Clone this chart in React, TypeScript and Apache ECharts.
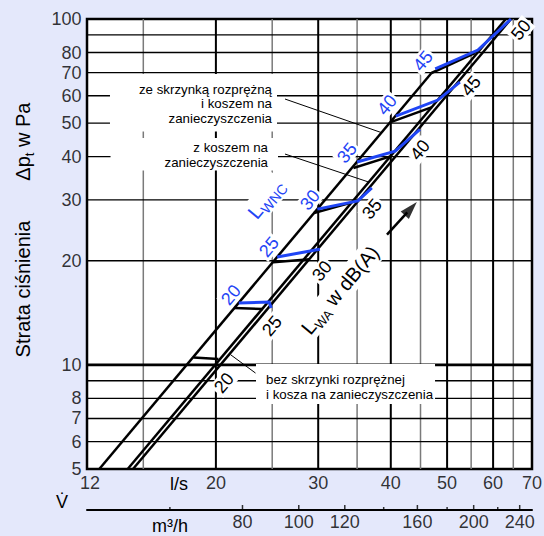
import React, { useEffect, useRef } from 'react';
import * as echarts from 'echarts';

const FONT = '"Liberation Sans", Arial, Helvetica, sans-serif';
const PAGE_BG = '#e4e8fb';
const BLUE = '#1f45f5';

// Axis ranges
const flowRange = [12, 70]; // l/s
const pressureRange = [5, 100]; // Pa
const volumeRange = [43.2, 252]; // m³/h (l/s × 3.6)

// Grid lines
const flowGridMajor = [20, 30, 40, 50, 60];
const flowGridMinor = [15, 25, 35, 45, 55, 65];
const pressureGrid = [6, 7, 8, 9, 20, 30, 40, 50, 60, 70, 80, 90];
const pressureGridBold = [10];

// Tick labels
const flowTicks = [12, 20, 30, 40, 50, 60, 70];
const pressureTicks = [5, 6, 7, 8, 10, 20, 30, 40, 50, 60, 70, 80, 100];
const volumeTicks = [80, 100, 120, 160, 200, 240];
const volumeMinorTicks = [60, 140, 180, 220];

// Pressure loss curves [l/s, Pa]
const withPlenumAndFilter = [[12.6, 5], [47.0, 69.8]];
const withFilter = [[14.1, 5], [63.1, 100]];
const bare = [[14.4, 5], [64.4, 100]];

// Sound power level LWA in dB(A): iso-lines between the curves
const lwaLevels = [20, 25, 30, 35, 40, 45, 50];
const lwaSteps = [
  [[18.3, 10.5], [20.2, 10.4]],
  [[21.5, 14.6], [24.1, 14.5]],
  [[25.1, 19.8], [29.0, 20.2]],
  [[29.5, 27.5], [34.1, 29.4]],
  [[34.5, 37.1], [40.2, 40.2]],
  [[40.1, 50.4], [47.1, 55.6]],
  [[47.0, 69.8], [55.8, 79.7]],
];

// LWNC levels
const lwncLevels = [20, 25, 30, 35, 40, 45];
const lwncSteps = [
  [[21.9, 15.1], [24.7, 15.2], [24.9, 14.6]],
  [[25.5, 20.5], [30.2, 21.6]],
  [[29.9, 28.2], [35.1, 29.8], [37.1, 32.5]],
  [[35.0, 38.6], [40.7, 41.5], [44.9, 48.0]],
  [[40.8, 52.4], [48.2, 58.3], [52.6, 65.7]],
  [[47.7, 71.7], [56.5, 81.3], [64.4, 100]],
];

// Leader lines from the captions to their curves, and the LWA arrow
const leaderPlenumAndFilter = [[26.3, 58.7], [38.6, 46.9]];
const leaderFilter = [[26.3, 40.7], [36.6, 33.8]];
const leaderBare = [[23.4, 9.47], [21.2, 10.7]];
const lwaArrowShaft = [[39.4, 23.8], [42.7, 27.6]];
const lwaArrowHead = [43.3, 28.3];

// Label placement (pixels)
const lwaLabelAt = [[224, 383], [272, 326], [322, 271], [372, 209], [420, 150], [471, 86], [521, 30]];
const lwncLabelAt = [[231, 295], [269, 247], [310, 200], [347, 153], [387, 105], [423, 61]];
const ROT = (50 * Math.PI) / 180;

const seg = (data: number[][], color: string, width: number, z: number) => ({
  type: 'line',
  data,
  symbol: 'none',
  silent: true,
  z,
  clip: true,
  lineStyle: { color, width, cap: 'butt', join: 'miter' },
});

const labelSeries = (data: any[], label: any, axes = 0) => ({
  type: 'scatter',
  xAxisIndex: axes,
  yAxisIndex: axes,
  data,
  symbol: 'circle',
  symbolSize: 1,
  itemStyle: { color: 'rgba(0,0,0,0)' },
  silent: true,
  clip: false,
  z: 4,
  label: { show: true, color: '#000', fontFamily: FONT, fontSize: 18, ...label },
});

const numberText = (txt: string, at: number[], color: string) => ({
  type: 'text',
  x: at[0],
  y: at[1],
  rotation: ROT,
  z: 3,
  silent: true,
  style: {
    text: txt,
    fill: color,
    fontSize: 18,
    fontFamily: FONT,
    align: 'center',
    verticalAlign: 'middle',
    textAlign: 'center',
    textVerticalAlign: 'middle',
    backgroundColor: '#fff',
    padding: [0, 2, 0, 2],
  },
});

const captionText = (text: string, x: number, y: number, align: string, lineHeight: number, padding: number[]) => ({
  type: 'text',
  x,
  y,
  z: 3,
  silent: true,
  style: {
    text,
    fill: '#000',
    fontSize: 13.3,
    fontFamily: FONT,
    align,
    textAlign: align,
    verticalAlign: 'top',
    textVerticalAlign: 'top',
    lineHeight,
    backgroundColor: '#fff',
    padding,
  },
});

const plainText = (text: string, x: number, y: number, fontSize = 18) => ({
  type: 'text',
  x,
  y,
  z: 3,
  silent: true,
  style: {
    text,
    fill: '#000',
    fontSize,
    fontFamily: FONT,
    align: 'center',
    verticalAlign: 'middle',
    textAlign: 'center',
    textVerticalAlign: 'middle',
  },
});

function buildOption() {
  const series: any[] = [];

  flowGridMinor.forEach((q) => series.push(seg([[q, pressureRange[0]], [q, pressureRange[1]]], '#7a7a7a', 1.5, 1)));
  flowGridMajor.forEach((q) => series.push(seg([[q, pressureRange[0]], [q, pressureRange[1]]], '#000', 2, 1)));
  pressureGrid.forEach((p) => series.push(seg([[flowRange[0], p], [flowRange[1], p]], '#000', 1.4, 1)));
  pressureGridBold.forEach((p) => series.push(seg([[flowRange[0], p], [flowRange[1], p]], '#000', 2.6, 1)));

  [withPlenumAndFilter, withFilter, bare].forEach((c) => series.push(seg(c, '#000', 2.5, 5)));
  lwaSteps.forEach((s) => series.push(seg(s, '#000', 2.5, 5)));
  lwncSteps.forEach((s) => series.push(seg(s, BLUE, 3, 6)));
  [leaderPlenumAndFilter, leaderFilter, leaderBare].forEach((l) => series.push(seg(l, '#000', 1, 5)));
  series.push(seg(lwaArrowShaft, '#000', 2.5, 5));
  series.push({
    type: 'scatter',
    data: [lwaArrowHead],
    symbol: 'path://M5,0L10,18L0,18Z',
    symbolSize: [11, 18],
    symbolRotate: -42,
    itemStyle: { color: '#000' },
    silent: true,
    clip: false,
    z: 5,
  });

  // Tick labels
  series.push(
    labelSeries(
      pressureTicks.map((p) => [flowRange[0], p]),
      { position: 'left', distance: 5, formatter: (p: any) => String(p.value[1]) }
    )
  );
  series.push(
    labelSeries(
      flowTicks.map((q) =>
        q === flowRange[0] ? { value: [q, pressureRange[0]], label: { offset: [3, 0] } } : [q, pressureRange[0]]
      ),
      { position: 'bottom', distance: 4, formatter: (p: any) => String(p.value[0]) }
    )
  );
  series.push(
    labelSeries(
      volumeTicks.map((v) => [v, 0]),
      { position: 'bottom', distance: 2, formatter: (p: any) => String(p.value[0]) },
      1
    )
  );
  series.push({
    type: 'scatter',
    xAxisIndex: 1,
    yAxisIndex: 1,
    data: volumeTicks.map((v) => [v, 0]),
    symbol: 'rect',
    symbolSize: [1.5, 5],
    symbolOffset: [0, -2.5],
    itemStyle: { color: '#000' },
    silent: true,
    clip: false,
    z: 4,
  });
  series.push({
    type: 'scatter',
    xAxisIndex: 1,
    yAxisIndex: 1,
    data: volumeMinorTicks.map((v) => [v, 0]),
    symbol: 'rect',
    symbolSize: [1.5, 3],
    symbolOffset: [0, -1.5],
    itemStyle: { color: '#000' },
    silent: true,
    clip: false,
    z: 4,
  });

  const graphic: any[] = [
    ...lwaLevels.map((v, i) => numberText(String(v), lwaLabelAt[i], '#000')),
    ...lwncLevels.map((v, i) => numberText(String(v), lwncLabelAt[i], BLUE)),
    captionText('ze skrzynką rozprężną\ni koszem na\nzanieczyszczenia', 277, 74, 'right', 14.5, [8, 5, 6, 29]),
    captionText('z koszem na\nzanieczyszczenia', 278, 138, 'right', 15, [1.5, 10, 1, 54]),
    captionText('bez skrzynki rozprężnej\ni kosza na zanieczyszczenia', 256, 364, 'left', 15, [8, 2, 2, 10]),
    {
      type: 'text',
      x: 340,
      y: 290,
      rotation: ROT,
      z: 3,
      silent: true,
      style: {
        text: '{b|L}{s|WA}{b| w dB(A)}',
        align: 'center',
        verticalAlign: 'middle',
        textAlign: 'center',
        textVerticalAlign: 'middle',
        backgroundColor: '#fff',
        padding: [0, 3, 0, 3],
        rich: {
          b: { fontSize: 20, fontFamily: FONT, fill: '#000', lineHeight: 26 },
          s: { fontSize: 13, fontFamily: FONT, fill: '#000', lineHeight: 13, verticalAlign: 'bottom' },
        },
      },
    },
    {
      type: 'text',
      x: 266,
      y: 199,
      rotation: ROT,
      z: 3,
      silent: true,
      style: {
        text: '{b|L}{s|WNC}',
        align: 'center',
        verticalAlign: 'middle',
        textAlign: 'center',
        textVerticalAlign: 'middle',
        backgroundColor: '#fff',
        padding: [0, 2, 0, 2],
        rich: {
          b: { fontSize: 20, fontFamily: FONT, fill: BLUE, lineHeight: 26 },
          s: { fontSize: 14, fontFamily: FONT, fill: BLUE, lineHeight: 14, verticalAlign: 'bottom' },
        },
      },
    },
    {
      type: 'text',
      x: 23,
      y: 230,
      rotation: Math.PI / 2,
      z: 3,
      silent: true,
      style: {
        text: '{a|Strata ciśnienia}{g| }{a|Δp}{t|t}{a| w Pa}',
        align: 'center',
        verticalAlign: 'middle',
        textAlign: 'center',
        textVerticalAlign: 'middle',
        rich: {
          a: { fontSize: 20, fontFamily: FONT, fill: '#000', lineHeight: 26 },
          t: { fontSize: 13, fontFamily: FONT, fill: '#000', lineHeight: 13, verticalAlign: 'bottom' },
          g: { fontSize: 20, fontFamily: FONT, width: 40 },
        },
      },
    },
    plainText('l/s', 179, 484),
    plainText('V\u0307', 62, 502),
    plainText('m³/h', 170, 526),
  ];

  return {
    animation: false,
    backgroundColor: PAGE_BG,
    grid: [
      { left: 87, top: 19, width: 445, height: 450, show: true, backgroundColor: '#fff', borderColor: '#000', borderWidth: 2.5 },
      { left: 87, top: 509, width: 445, height: 1, show: false },
    ],
    xAxis: [
      {
        type: 'log',
        gridIndex: 0,
        min: flowRange[0],
        max: flowRange[1],
        logBase: 10,
        axisLine: { show: false },
        axisTick: { show: false },
        axisLabel: { show: false },
        splitLine: { show: false },
      },
      {
        type: 'log',
        gridIndex: 1,
        min: volumeRange[0],
        max: volumeRange[1],
        logBase: 10,
        position: 'bottom',
        axisLine: { show: true, onZero: false, lineStyle: { color: '#000', width: 2 } },
        axisTick: { show: false },
        axisLabel: { show: false },
        splitLine: { show: false },
      },
    ],
    yAxis: [
      {
        type: 'log',
        gridIndex: 0,
        min: pressureRange[0],
        max: pressureRange[1],
        logBase: 10,
        axisLine: { show: false },
        axisTick: { show: false },
        axisLabel: { show: false },
        splitLine: { show: false },
      },
      { type: 'value', gridIndex: 1, min: 0, max: 1, show: false },
    ],
    graphic,
    series,
  };
}

export default function App() {
  const ref = useRef<HTMLDivElement>(null);
  useEffect(() => {
    if (!ref.current) return;
    const chart = echarts.init(ref.current, null, { renderer: 'svg' });
    chart.setOption(buildOption() as any);
    return () => chart.dispose();
  }, []);
  return (
    <div
      ref={ref}
      style={{ position: 'fixed', left: 0, top: 0, width: 544, height: 536, background: PAGE_BG }}
    />
  );
}
